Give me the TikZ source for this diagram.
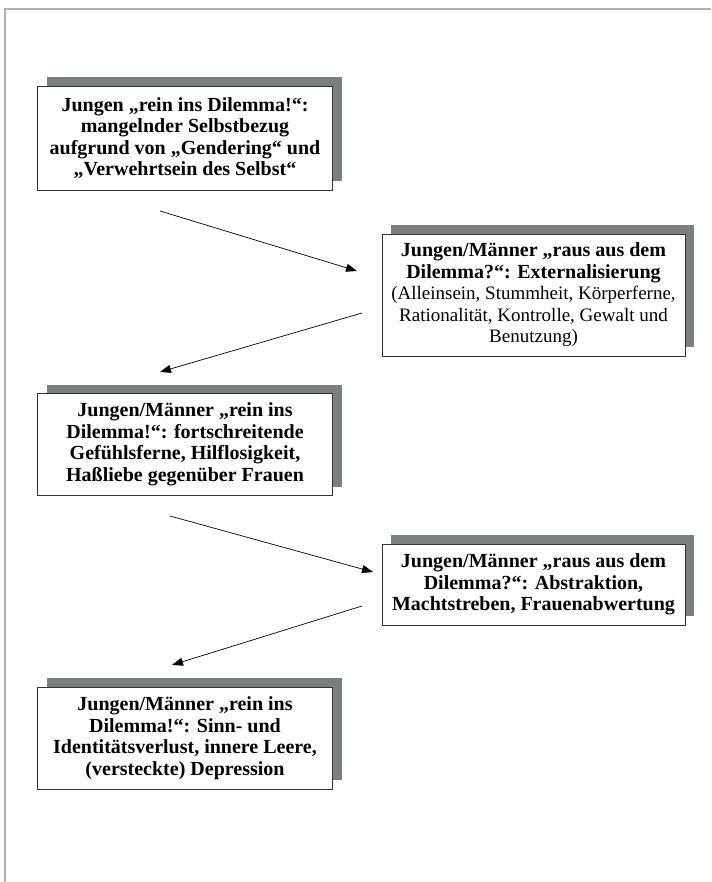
\documentclass[tikz,border=0pt]{standalone}
\usepackage{fontspec}
\setmainfont{Liberation Serif}
\usetikzlibrary{arrows.meta,shadows}
\definecolor{boxshadow}{RGB}{122,128,128}
\definecolor{pageline}{RGB}{175,175,175}
\newcommand\regtext{\fontsize{19}{21.5}\selectfont\mdseries}
\tikzset{
  stage/.style={draw=black!80, line width=0.8pt, fill=white, align=center,
    inner sep=0pt, font=\fontsize{20}{21.5}\selectfont\bfseries,
    drop shadow={shadow xshift=9pt, shadow yshift=9pt, fill=boxshadow, opacity=1}},
  leftstage/.style={stage, minimum width=295pt},
  rightstage/.style={stage, minimum width=303pt},
  flow/.style={-{Triangle[length=11pt,width=8pt]}, line width=0.7pt}
}
\begin{document}
\begin{tikzpicture}[x=1pt,y=-1pt]
\useasboundingbox (0,0) rectangle (711,882);
\draw[pageline, line width=1.5pt] (5,882) -- (5,9) -- (711,9);
% stages
\node[leftstage, minimum height=104pt] (rein1) at (185,138)
  {Jungen „rein ins Dilemma!“:\\ mangelnder Selbstbezug\\ aufgrund von „Gendering“ und\\ „Verwehrtsein des Selbst“};
\node[rightstage, minimum height=122pt] (raus1) at (533.5,295)
  {Jungen/Männer „raus aus dem\\ Dilemma?“: Externalisierung\\ \regtext(Alleinsein, Stummheit, Körperferne,\\ \regtext Rationalität, Kontrolle, Gewalt und\\ \regtext Benutzung)};
\node[leftstage, minimum height=102pt] (rein2) at (185,444.5)
  {Jungen/Männer „rein ins\\ Dilemma!“: fortschreitende\\ Gefühlsferne, Hilflosigkeit,\\ Haßliebe gegenüber Frauen};
\node[rightstage, minimum height=81pt] (raus2) at (533.5,584.5)
  {Jungen/Männer „raus aus dem\\ Dilemma?“: Abstraktion,\\ Machtstreben, Frauenabwertung};
\node[leftstage, minimum height=102pt] (rein3) at (185,738)
  {Jungen/Männer „rein ins\\ Dilemma!“: Sinn- und\\ Identitätsverlust, innere Leere,\\ (versteckte) Depression};
% arrow ends
\coordinate (s1) at (160,211); \coordinate (e1) at (357,271);
\coordinate (s2) at (362,313); \coordinate (e2) at (160,372);
\coordinate (s3) at (170,516); \coordinate (e3) at (373,572);
\coordinate (s4) at (362,606); \coordinate (e4) at (172,665);
\foreach \i in {1,2,3,4} {
  \draw[flow] (s\i) -- (e\i);
};
\end{tikzpicture}
\end{document}
